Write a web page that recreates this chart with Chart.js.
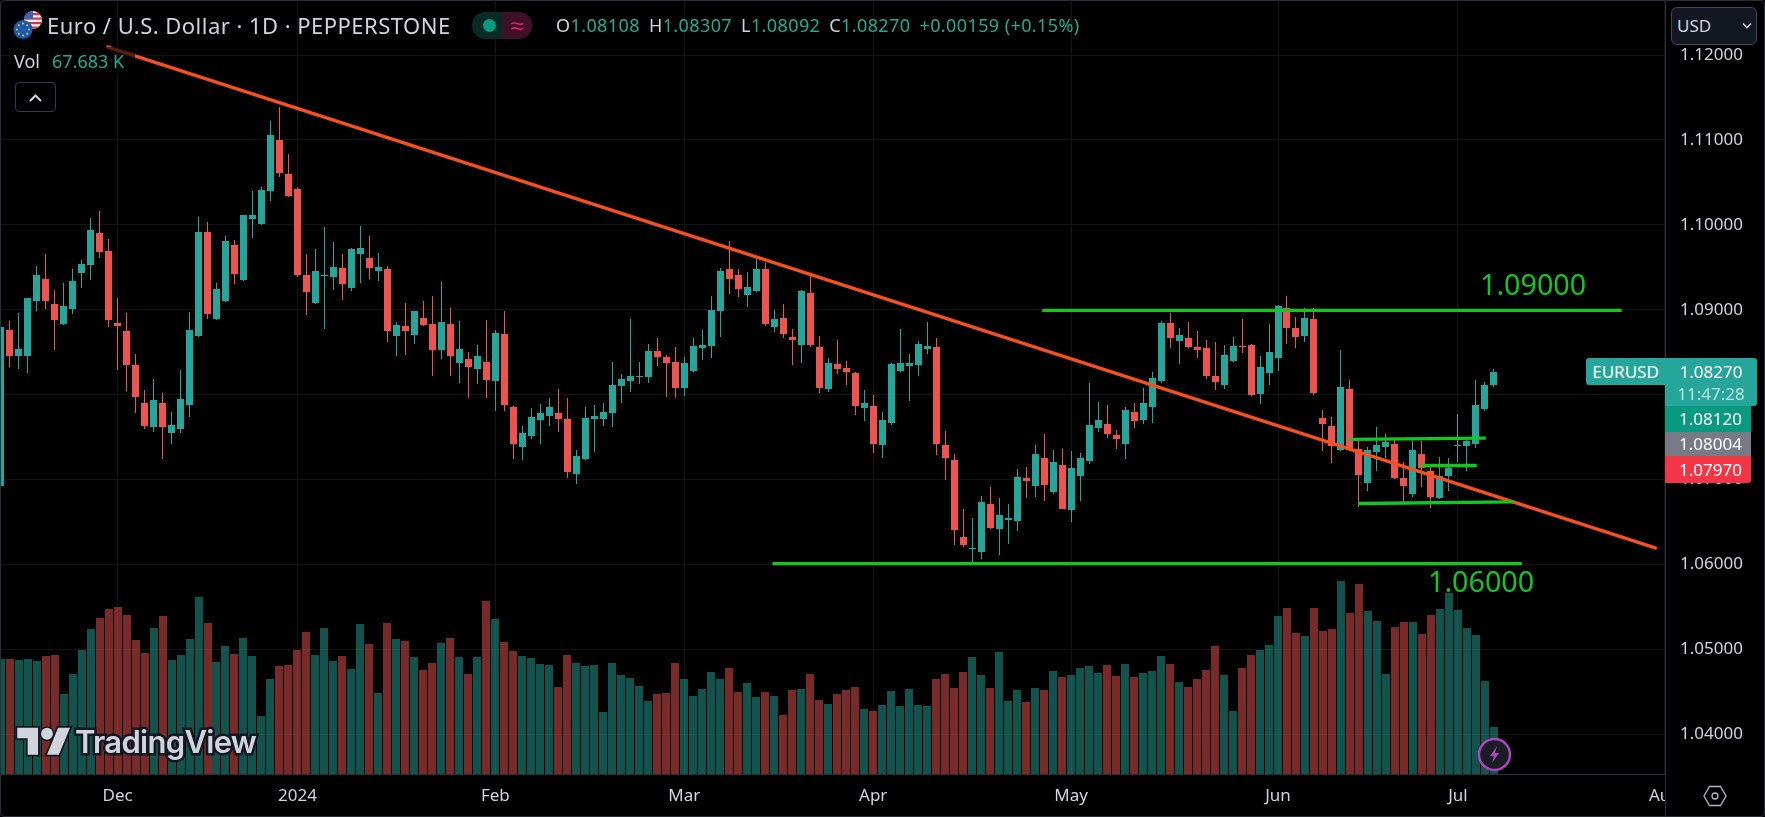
<!DOCTYPE html>
<html><head><meta charset="utf-8"><title>EURUSD</title>
<script src="https://cdn.jsdelivr.net/npm/chart.js@4/dist/chart.umd.js"></script>
<style>
html,body{margin:0;padding:0;background:#000;width:1765px;height:817px;overflow:hidden;font-family:"Noto Sans",sans-serif;color:#d1d4dc}
#wrap{position:relative;width:1765px;height:817px;overflow:hidden}
canvas{position:absolute;left:0;top:0}
.a{position:absolute;white-space:nowrap}
.tag{position:absolute;left:1665px;color:#fff;font-size:17px;text-align:center;box-sizing:border-box;line-height:1}
.g{color:#22ab94}
.f{margin-right:9px}
</style></head><body><div id="wrap">
<canvas id="c" width="1765" height="817"></canvas>
<div class="a" style="left:1665px;top:775px;width:100px;height:42px;background:#000;box-sizing:border-box;border-left:1px solid #2a2e39"></div>

<svg class="a" style="left:12px;top:10px" width="32" height="32" viewBox="0 0 32 32">
 <defs><clipPath id="us"><circle cx="21" cy="10" r="9"/></clipPath></defs>
 <g clip-path="url(#us)"><rect x="10" y="0" width="22" height="20" fill="#f4f4f4"/>
 <rect x="10" y="3" width="22" height="2.2" fill="#e0313f"/><rect x="10" y="7.5" width="22" height="2.2" fill="#e0313f"/><rect x="10" y="12" width="22" height="2.2" fill="#e0313f"/><rect x="10" y="16.5" width="22" height="2.2" fill="#e0313f"/>
 <rect x="10" y="0" width="11" height="9" fill="#3a63b8"/></g>
 <circle cx="11" cy="19.5" r="9.5" fill="#1a5bb0"/>
 <g fill="#f6c945"><circle cx="11" cy="13.5" r="1"/><circle cx="11" cy="25.5" r="1"/><circle cx="5" cy="19.5" r="1"/><circle cx="17" cy="19.5" r="1"/><circle cx="6.8" cy="15.3" r="1"/><circle cx="15.2" cy="15.3" r="1"/><circle cx="6.8" cy="23.7" r="1"/><circle cx="15.2" cy="23.7" r="1"/></g>
</svg>
<div class="a" id="title" style="left:47px;top:12px;font-size:22px;line-height:26px;letter-spacing:.47px;color:#d1d4dc">Euro / U.S. Dollar · 1D · PEPPERSTONE</div>
<div class="a" style="left:472px;top:12px;width:30px;height:27px;background:#0a2a26;border-radius:13px 0 0 13px"></div>
<div class="a" style="left:502px;top:12px;width:30px;height:27px;background:#3f1127;border-radius:0 13px 13px 0;color:#e91e63;font-size:24px;line-height:25px;text-align:center">≈</div>
<div class="a" style="left:483px;top:19px;width:13px;height:13px;border-radius:50%;background:#089981"></div>
<div class="a" id="ohlc" style="left:556px;top:13px;font-size:18px;line-height:24px;letter-spacing:.4px;color:#d1d4dc"><span class="f">O<span class="g">1.08108</span></span><span class="f">H<span class="g">1.08307</span></span><span class="f">L<span class="g">1.08092</span></span><span class="f">C<span class="g">1.08270</span></span><span class="g">+0.00159 (+0.15%)</span></div>
<div class="a" style="left:10px;top:47px;height:29px;width:125px;background:rgba(0,0,0,.62)"></div>
<div class="a" style="left:14px;top:49px;font-size:18px;line-height:24px;color:#d1d4dc">Vol</div>
<div class="a g" style="left:52px;top:49px;font-size:18px;line-height:24px">67.683 K</div>
<div class="a" style="left:15px;top:82px;width:41px;height:30px;box-sizing:border-box;border:1px solid #363a45;border-radius:4px;background:#000">
 <svg width="39" height="28" viewBox="0 0 39 28"><path d="M14 18l5.500-5.500L25 18" fill="none" stroke="#d1d4dc" stroke-width="2"/></svg></div>

<div class="a" style="left:1671px;top:7px;width:86px;height:38px;box-sizing:border-box;border:1px solid #434651;border-radius:6px;background:#131722;font-size:17px;line-height:36px;padding-left:5px;color:#d1d4dc">USD
 <svg style="position:absolute;left:70px;top:14px" width="10" height="8" viewBox="0 0 10 8"><path d="M1 1.500l4 4 4-4" fill="none" stroke="#d1d4dc" stroke-width="1.600"/></svg></div>

<div class="a" style="left:1586px;top:358px;width:79px;height:27px;background:#26a69a;border-radius:3px 0 0 3px;color:#fff;font-size:17px;line-height:27px;text-align:center">EURUSD</div>
<div class="tag" style="top:358px;width:92px;height:48px;background:#26a69a;border-radius:0 3px 3px 0;padding-top:5px">1.08270<div style="color:rgba(255,255,255,.7);margin-top:5px">11:47:28</div></div>
<div class="tag" style="top:406px;width:86px;height:26px;background:#089981;line-height:26px;padding-left:5px">1.08120</div>
<div class="tag" style="top:432px;width:86px;height:24px;background:#787b86;line-height:24px;padding-left:5px">1.08004</div>
<div class="tag" style="top:456px;width:86px;height:27px;background:#f23645;line-height:27px;padding-left:5px;border-radius:0 0 3px 0">1.07970</div>

<div class="a" style="left:1480px;top:264px;font-size:28.7px;line-height:40px;color:#12c71f">1.09000</div>
<div class="a" style="left:1428px;top:561px;font-size:28.7px;line-height:40px;color:#12c71f">1.06000</div>

<svg class="a" style="left:15px;top:724px" width="58" height="36" viewBox="-1.500 2.500 39 22">
 <path d="M14 22H7V11H0V4h14v18zM28 22h-8l7.500-18h8L28 22z" fill="#d1d4dc" stroke="#131722" stroke-width="2.400" paint-order="stroke"/>
 <circle cx="20" cy="8" r="4" fill="#d1d4dc" stroke="#131722" stroke-width="2" paint-order="stroke"/>
</svg>
<div class="a" id="wm" style="left:75px;top:721px;font-size:31px;line-height:42px;font-weight:600;color:#d1d4dc;-webkit-text-stroke:5px #131722;paint-order:stroke fill;font-family:Inter,sans-serif;letter-spacing:-.7px">TradingView</div>

<svg class="a" style="left:1477px;top:737px" width="35" height="35" viewBox="0 0 35 35">
 <circle cx="17.500" cy="17.500" r="15.500" fill="#1a1d26" stroke="#ab47bc" stroke-width="2.500"/>
 <path d="M20 9l-7 10h4l-2 7 7-10h-4z" fill="#ab47bc"/>
</svg>
<svg class="a" style="left:1703px;top:785px" width="24" height="22" viewBox="0 0 24 22">
 <path d="M6.500 1.500h11L23 11l-5.500 9.500h-11L1 11z" fill="none" stroke="#b2b5be" stroke-width="1.300"/><circle cx="12" cy="11" r="3" fill="none" stroke="#b2b5be" stroke-width="1.300"/>
</svg>
<div class="a" style="left:0;top:0;width:1765px;height:817px;box-sizing:border-box;border:1px solid #2a2e39;border-radius:4px;pointer-events:none"></div>
</div>
<script>
const opens=[1.06921,1.08757,1.08455,1.08455,1.09102,1.09357,1.09062,1.08827,1.09008,1.09427,
1.09525,1.09898,1.09686,1.08839,1.08745,1.08345,1.07898,1.07619,1.07898,1.07549,
1.07596,1.07878,1.08690,1.09910,1.08890,1.09102,1.09757,1.09349,1.10066,1.10008,
1.10396,1.11004,1.10604,1.10427,1.09415,1.09078,1.09392,1.09380,1.09486,1.09255,
1.09655,1.09615,1.09451,1.09474,1.08690,1.08804,1.08702,1.08898,1.08827,1.08525,
1.08827,1.08372,1.08415,1.08302,1.08380,1.08160,1.08710,1.07851,1.07384,1.07513,
1.07702,1.07749,1.07780,1.07710,1.07066,1.07243,1.07713,1.07713,1.07784,1.08102,
1.08160,1.08204,1.08208,1.08510,1.08439,1.08380,1.08078,1.08278,1.08545,1.08572,
1.08984,1.09474,1.09415,1.09172,1.09219,1.09474,1.08796,1.08898,1.08674,1.08584,
1.09192,1.08557,1.08062,1.08357,1.08310,1.08251,1.07843,1.07862,1.07408,1.07666,
1.08278,1.08337,1.08349,1.08537,1.08557,1.07404,1.07227,1.06325,1.06180,1.06149,
1.06710,1.06419,1.06525,1.06513,1.07015,1.06925,1.07251,1.06855,1.07168,1.06643,
1.07043,1.07219,1.07604,1.07651,1.07521,1.07419,1.07792,1.07702,1.07851,1.08157,
1.08839,1.08627,1.08663,1.08557,1.08545,1.08216,1.08110,1.08392,1.08569,1.08580,
1.08004,1.08251,1.08427,1.09016,1.08780,1.08686,1.08886,1.07721,1.07627,1.07345,
1.08063,1.07357,1.06957,1.07321,1.07380,1.07416,1.07016,1.06827,1.07298,1.07098,
1.06780,1.07039,1.07392,1.07392,1.07416,1.07827,1.08108];
const highs=[1.08870,1.08862,1.08957,1.09141,1.09521,1.09651,1.09227,1.09310,1.09482,1.09588,
1.10082,1.10168,1.09839,1.09133,1.08957,1.08474,1.08051,1.08180,1.08015,1.07792,
1.08286,1.08968,1.10098,1.10039,1.09310,1.09874,1.09827,1.10121,1.10404,1.10451,
1.11227,1.11392,1.10839,1.10440,1.09651,1.09721,1.09980,1.09792,1.09662,1.09733,
1.09992,1.09874,1.09674,1.09510,1.08851,1.09074,1.08990,1.09098,1.09157,1.09321,
1.09015,1.08862,1.08498,1.08580,1.08874,1.08757,1.08980,1.07862,1.07627,1.07839,
1.07886,1.07957,1.08062,1.07957,1.07345,1.07851,1.07874,1.07898,1.08388,1.08239,
1.08886,1.08388,1.08600,1.08662,1.08462,1.08557,1.08439,1.08662,1.08757,1.09157,
1.09486,1.09815,1.09474,1.09439,1.09600,1.09545,1.08992,1.09062,1.08768,1.09227,
1.09400,1.08686,1.08427,1.08639,1.08392,1.08262,1.08051,1.07992,1.07792,1.08368,
1.08768,1.08474,1.08627,1.08851,1.08662,1.07568,1.07298,1.06651,1.06549,1.06804,
1.06910,1.06780,1.06710,1.07121,1.07149,1.07404,1.07533,1.07345,1.07357,1.07333,
1.07310,1.08133,1.07910,1.07874,1.07580,1.07851,1.07898,1.08074,1.08263,1.08863,
1.08957,1.08780,1.08851,1.08745,1.08639,1.08616,1.08580,1.08674,1.08886,1.08592,
1.08451,1.08827,1.09050,1.09157,1.08910,1.09016,1.09016,1.07816,1.07733,1.08521,
1.08169,1.07451,1.07380,1.07616,1.07533,1.07486,1.07204,1.07463,1.07451,1.07169,
1.07263,1.07251,1.07769,1.07498,1.08169,1.08145,1.08307];
const lows=[1.06900,1.08325,1.08302,1.08255,1.08984,1.09004,1.08525,1.08815,1.08949,1.09251,
1.09345,1.09608,1.08796,1.08286,1.08043,1.07784,1.07592,1.07561,1.07243,1.07419,
1.07549,1.07737,1.08678,1.08890,1.08880,1.09095,1.09302,1.09340,1.09843,1.10000,
1.10286,1.10561,1.10330,1.09384,1.08937,1.09070,1.08772,1.09227,1.09113,1.09219,
1.09313,1.09361,1.09337,1.08619,1.08455,1.08466,1.08596,1.08808,1.08219,1.08419,
1.08219,1.08137,1.07960,1.08125,1.07960,1.07808,1.07808,1.07243,1.07231,1.07478,
1.07419,1.07631,1.07561,1.07019,1.06953,1.07235,1.07325,1.07631,1.07619,1.07902,
1.08031,1.08125,1.08137,1.08337,1.07972,1.07960,1.07984,1.08270,1.08408,1.08431,
1.08678,1.09184,1.09149,1.09031,1.09208,1.08808,1.08737,1.08666,1.08349,1.08372,
1.08561,1.08019,1.08031,1.08243,1.08113,1.07761,1.07690,1.07313,1.07255,1.07643,
1.08270,1.07925,1.08219,1.08478,1.07290,1.06996,1.06231,1.06208,1.06031,1.06066,
1.06419,1.06113,1.06243,1.06396,1.06784,1.06796,1.06749,1.06831,1.06648,1.06502,
1.06749,1.07184,1.07561,1.07490,1.07360,1.07243,1.07608,1.07655,1.07663,1.08133,
1.08545,1.08357,1.08545,1.08427,1.08180,1.08051,1.08063,1.08385,1.08486,1.07985,
1.07886,1.08110,1.08274,1.08592,1.08545,1.08616,1.07992,1.07333,1.07192,1.07338,
1.07333,1.06674,1.06863,1.07098,1.07251,1.07010,1.06737,1.06792,1.06910,1.06663,
1.06769,1.06863,1.07204,1.07098,1.07369,1.07804,1.08092];
const closes=[1.08796,1.08455,1.08533,1.09133,1.09404,1.09102,1.08878,1.09039,1.09333,1.09533,
1.09945,1.09678,1.08878,1.08808,1.08349,1.07972,1.07631,1.07933,1.07619,1.07639,
1.07945,1.08757,1.09921,1.08949,1.09239,1.09804,1.09419,1.10110,1.10110,1.10415,
1.11062,1.10608,1.10337,1.09408,1.09208,1.09451,1.09404,1.09498,1.09302,1.09721,
1.09733,1.09490,1.09498,1.08749,1.08815,1.08749,1.08980,1.08819,1.08525,1.08851,
1.08455,1.08533,1.08325,1.08451,1.08172,1.08721,1.07878,1.07419,1.07545,1.07733,
1.07780,1.07851,1.07713,1.07090,1.07274,1.07721,1.07745,1.07792,1.08110,1.08180,
1.08215,1.08215,1.08510,1.08443,1.08372,1.08078,1.08368,1.08568,1.08580,1.08992,
1.09462,1.09361,1.09243,1.09262,1.09474,1.08831,1.08886,1.08713,1.08643,1.09215,
1.08584,1.08078,1.08368,1.08302,1.08266,1.07866,1.07898,1.07419,1.07698,1.08357,
1.08368,1.08368,1.08592,1.08568,1.07419,1.07255,1.06408,1.06231,1.06192,1.06733,
1.06431,1.06580,1.06545,1.07027,1.06980,1.07298,1.06937,1.07204,1.06655,1.07133,
1.07251,1.07639,1.07698,1.07537,1.07478,1.07815,1.07690,1.07898,1.08192,1.08839,
1.08663,1.08698,1.08557,1.08521,1.08216,1.08145,1.08463,1.08569,1.08557,1.07992,
1.08321,1.08498,1.09039,1.08780,1.08674,1.08898,1.08016,1.07651,1.07392,1.08086,
1.07345,1.07051,1.07345,1.07404,1.07439,1.07016,1.06921,1.07345,1.07133,1.06792,
1.07039,1.07133,1.07404,1.07451,1.07874,1.08110,1.08270];
const volumes=[165.6,165.6,164.2,165.6,162.7,169.9,171.4,115.2,144,178.6,
208.8,224.6,237.6,240.5,229,193,174.2,210.2,227.5,164.2,
171.4,194.4,254.9,217.4,161.3,184.3,172.8,195.8,169.9,83.5,
136.8,155.5,157,178.6,204.5,171.4,210.2,162.7,169.9,151.2,
216,187.2,116.6,217.4,194.4,191.5,168.5,149.8,159.8,188.6,
195.8,168.5,144,168.5,249.1,223.2,190.1,177.1,169.9,167,
158.4,157,125.3,171.4,159.8,155.5,157,89.3,159.8,142.6,
138.2,126.7,105.1,115.2,116.6,159.8,136.8,112.3,122.4,146.9,
136.8,152.6,118.1,131,110.9,118.1,112.3,85,121,122.4,
144,106.6,100.8,115.2,121,125.3,93.6,90.7,99.4,119.5,
97.9,122.4,99.4,97.9,136.8,144,123.8,146.9,168.5,142.6,
123.8,175.7,105.1,121,103.7,123.8,121,148.3,139.7,142.6,
152.6,155.5,145.4,157,141.1,158.4,139.7,145.4,148.3,169.9,
158.4,132.5,125.3,136.8,149.8,184.3,142.6,90.7,152.6,171.4,
178.6,185.8,227.5,239,203,198.7,239,205.9,208.8,277.9,
231.8,273.6,234.7,220.3,144,211.7,218.9,218.9,201.6,229,
237.6,260.6,236.2,210.2,200.2,133.9,67.683];
const priceTicks=[1.04,1.05,1.06,1.07,1.08,1.09,1.10,1.11,1.12];
const timeTickIndex=[13,33,55,76,97,119,142,162,185];
const timeTickLabels=['Dec','2024','Feb','Mar','Apr','May','Jun','Jul','Aug'];
const trendX=[11.76,184.1], trendY=[1.12098,1.06190];
const resistanceX=[115.8,180.2], resistanceY=[1.08993,1.08993];
const supportX=[85.8,169.1], supportY=[1.06010,1.06010];
const rangeTopX=[149.9,165.1], rangeTopY=[1.07473,1.07488];
const rangeMidX=[157.9,164.1], rangeMidY=[1.07165,1.07165];
const rangeLowX=[150.9,168.2], rangeLowY=[1.06719,1.06737];

const TEAL='#26a69a',RED='#ef5350',TEALV='rgba(38,166,154,.5)',REDV='rgba(239,83,80,.5)';
const up=opens.map((o,i)=>closes[i]>=o);
const seg=(xs,ys)=>xs.map((x,i)=>({x,y:ys[i]}));
const lineDs=(xs,ys,color,w)=>({type:'line',data:seg(xs,ys),borderColor:color,borderWidth:w,pointRadius:0,yAxisID:'y',order:1,tension:0});
const snap={id:'snap',beforeDatasetsDraw(chart){
 chart.data.datasets.forEach((d,k)=>{ if(!d.snapW) return;
  chart.getDatasetMeta(k).data.forEach(el=>{
    el.x=d.snapW%2? Math.floor(el.x)+.5 : Math.round(el.x);
    let a=Math.round(el.y),b=Math.round(el.base);
    if(a===b) b=a+1;
    el.y=a;el.base=b;
  });
 });
}};
const noPad=s=>{s.paddingLeft=s.paddingRight=s.paddingTop=s.paddingBottom=0};
const GRID='#131415',AXIS='#2a2e39';
new Chart(document.getElementById('c'),{
 type:'bar',
 plugins:[snap],
 data:{datasets:[
  {label:'Volume',data:volumes.map((v,i)=>({x:i,y:v})),backgroundColor:up.map(u=>u?TEALV:REDV),barThickness:8,grouped:false,yAxisID:'yVol',order:5,inflateAmount:0,snapW:8},
  {label:'Wick',data:highs.map((h,i)=>({x:i,y:[lows[i],h]})),backgroundColor:up.map(u=>u?TEAL:RED),barThickness:1,grouped:false,yAxisID:'y',order:4,inflateAmount:0,snapW:1},
  {label:'Body',data:opens.map((o,i)=>({x:i,y:[o,closes[i]]})),backgroundColor:up.map(u=>u?TEAL:RED),barThickness:7,grouped:false,yAxisID:'y',order:3,inflateAmount:0,snapW:7},
  lineDs(resistanceX,resistanceY,'#12c71f',3.4),
  lineDs(supportX,supportY,'#12c71f',3.4),
  lineDs(rangeTopX,rangeTopY,'#12c71f',3.4),
  lineDs(rangeMidX,rangeMidY,'#12c71f',3.4),
  lineDs(rangeLowX,rangeLowY,'#12c71f',3.4),
  lineDs(trendX,trendY,'#f4511e',3.4)
 ]},
 options:{
  responsive:false,animation:false,events:[],
  layout:{padding:0,autoPadding:false},
  plugins:{legend:{display:false},tooltip:{enabled:false}},
  scales:{
   x:{type:'linear',position:'bottom',min:-0.0667,max:185.02,offset:false,
      afterFit(s){s.height=43;noPad(s)},
      afterBuildTicks(s){s.ticks=timeTickIndex.map(v=>({value:v}))},
      grid:{color:GRID,drawTicks:false,lineWidth:1,offset:false},
      border:{color:AXIS,width:1},
      ticks:{autoSkip:false,maxRotation:0,padding:12,color:'#d1d4dc',font:{family:'"Noto Sans",sans-serif',size:17},
        callback(v){const k=timeTickIndex.indexOf(v);return k<0?'':timeTickLabels[k]}}},
   y:{type:'linear',position:'right',min:1.035325,max:1.126478,
      afterFit(s){s.width=100;noPad(s)},
      afterBuildTicks(s){s.ticks=priceTicks.map(v=>({value:v}))},
      grid:{color:GRID,drawTicks:false,lineWidth:1},
      border:{color:AXIS,width:1},
      ticks:{autoSkip:false,padding:15,color:'#d1d4dc',font:{family:'"Noto Sans",sans-serif',size:17},
        callback(v){return Number(v).toFixed(5)}}},
   yVol:{type:'linear',display:false,min:0,max:1114.6,position:'left',afterFit(s){s.width=0;noPad(s)}}
  }
 }
});
</script>
</body></html>
